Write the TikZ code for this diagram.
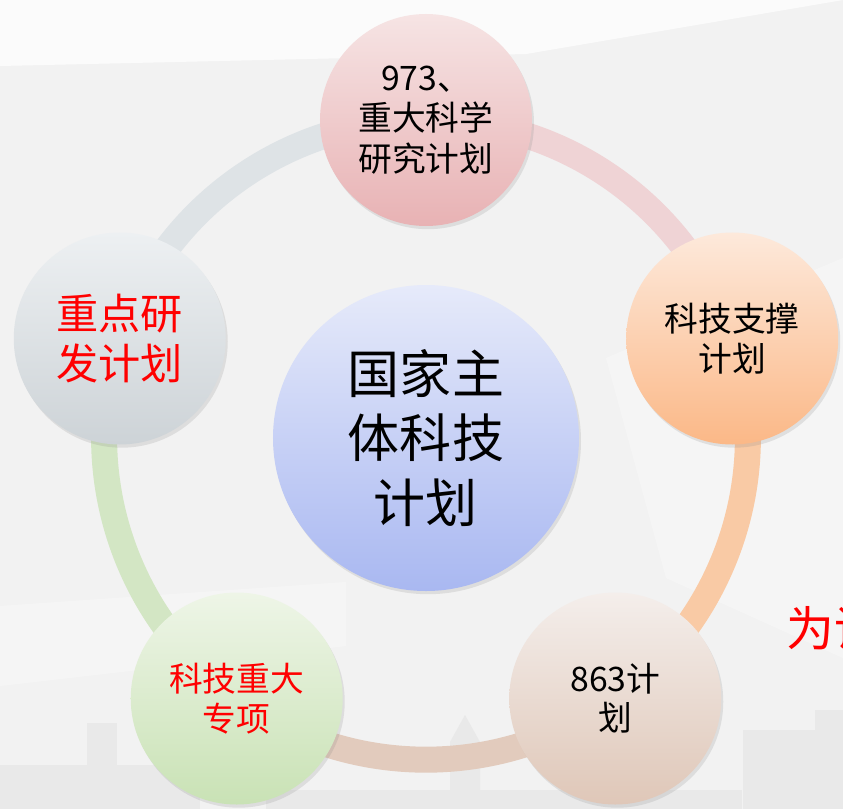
\documentclass[tikz,border=0pt]{standalone}
\usepackage{fontspec}
\setmainfont{Noto Sans CJK SC}
\usepackage{xcolor}
\usepackage{tikz}
\usetikzlibrary{shapes,shadows}

\pgfdeclarelayer{back}
\pgfdeclarelayer{ringlayer}
\pgfsetlayers{back,ringlayer,main}

\definecolor{bggray}{HTML}{F2F2F2}
\definecolor{cityg}{HTML}{E9E9E9}
\definecolor{coretop}{HTML}{E6EAFA}
\definecolor{corebot}{HTML}{A9B8F1}
\definecolor{pinktop}{HTML}{F6E4E4}
\definecolor{pinkbot}{HTML}{E8B2B4}
\definecolor{peachtop}{HTML}{FDE9DB}
\definecolor{peachbot}{HTML}{FBB887}
\definecolor{tantop}{HTML}{F4EEEB}
\definecolor{tanbot}{HTML}{DFC7B8}
\definecolor{greentop}{HTML}{EEF5E7}
\definecolor{greenbot}{HTML}{C9E2B5}
\definecolor{greytop}{HTML}{EDF0F2}
\definecolor{greybot}{HTML}{CDD3D7}
\definecolor{ringpink}{HTML}{EFD3D5}
\definecolor{ringpeach}{HTML}{F9CAA5}
\definecolor{ringtan}{HTML}{E2CBBD}
\definecolor{ringgreen}{HTML}{D3E6C4}
\definecolor{ringgrey}{HTML}{DEE3E6}

\begin{document}
\begin{tikzpicture}
		% Define the styles for the plan nodes and the ring
		\tikzstyle{plan}=[circle, minimum size=5.3cm, inner sep=0pt, align=center, drop shadow={opacity=0.18, shadow xshift=0.05cm, shadow yshift=-0.08cm}, font=\fontsize{24}{28}\selectfont]
		\tikzstyle{core}=[plan, minimum size=7.65cm, font=\fontsize{37}{46}\selectfont]
		\tikzstyle{ring}=[line width=0.65cm, bend left=36, looseness=0.94]

		\useasboundingbox (-10.65,-9.275) rectangle (10.425,10.95);

		% Define nodes
		\node (core) [core, top color=coretop, bottom color=corebot] at (0,0) {国家主\\体科技\\计划};
		\node (p973) [plan, top color=pinktop, bottom color=pinkbot, font=\fontsize{24}{29}\selectfont] at (90:7.95) {973、\\重大科学\\研究计划};
		\node (support) [plan, top color=peachtop, bottom color=peachbot] at (18:8.05) {科技支撑\\计划};
		\node (p863) [plan, top color=tantop, bottom color=tanbot] at (-54:8.05) {863计\\划};
		\node (major) [plan, top color=greentop, bottom color=greenbot, text=red] at (-126:8.05) {科技重大\\专项};
		\node (rnd) [plan, top color=greytop, bottom color=greybot, text=red, font=\fontsize{30}{36}\selectfont] at (162:8.05) {重点研\\发计划};
		\node (note) [anchor=west, text=red, font=\fontsize{34}{40}\selectfont] at (8.9,-4.75) {为谁};

		% Define ring
		\begin{pgfonlayer}{ringlayer}
		\draw[ring, ringpink] (p973.center) to (support.center);
		\draw[ring, ringpeach] (support.center) to (p863.center);
		\draw[ring, ringtan] (p863.center) to (major.center);
		\draw[ring, ringgreen] (major.center) to (rnd.center);
		\draw[ring, ringgrey] (rnd.center) to (p973.center);
		\end{pgfonlayer}

		% Background and skyline
		\begin{pgfonlayer}{back}
		\fill[bggray] (-10.65,-9.275) rectangle (10.425,10.95);
		\fill[white, opacity=0.75] (-10.65,10.95) -- (-10.65,9.3) -- (2.5,9.6) -- (10.425,10.95) -- cycle;
		\fill[white, opacity=0.3] (-10.65,-4.2) -- (-2,-3.6) -- (-2,-5.2) -- (-10.65,-6.2) -- cycle;
		\fill[white, opacity=0.3] (4.5,2) -- (10.425,4.5) -- (10.425,-5.5) -- (6,-3.5) -- cycle;
		\fill[cityg] (-10.65,-9.275) rectangle (-5.65,-8.175);
		\fill[cityg] (-8.475,-9.275) rectangle (-7.725,-7.125);
		\fill[cityg] (0.6,-9.275) -- (0.6,-7.6) -- (0.975,-6.925) -- (1.35,-7.6) -- (1.35,-9.275) -- cycle;
		\fill[cityg] (-4,-9.275) rectangle (7.9,-8.8);
		\fill[cityg] (7.925,-9.275) rectangle (10.425,-7.3);
		\fill[cityg] (9.725,-9.275) rectangle (10.425,-6.8);
		\end{pgfonlayer}
	\end{tikzpicture}
\end{document}
